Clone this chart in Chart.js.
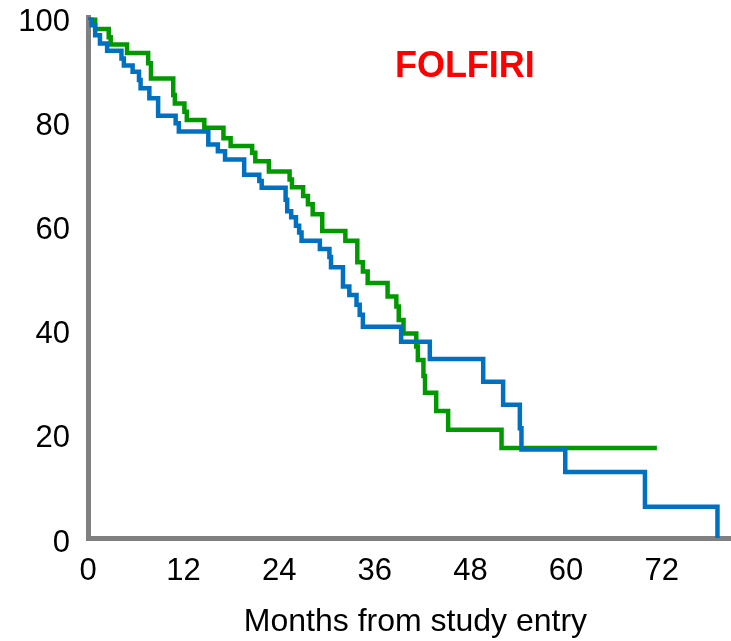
<!DOCTYPE html>
<html>
<head>
<meta charset="utf-8">
<script src="https://cdn.jsdelivr.net/npm/chart.js@4/dist/chart.umd.min.js"></script>
<style>
  html, body { margin: 0; padding: 0; background: #ffffff; }
  #wrap { width: 731px; height: 641px; position: relative; }
</style>
</head>
<body>
<div id="wrap"><canvas id="c" width="731" height="641"></canvas></div>
<script>
// ---- data ----
const seriesTitle = 'FOLFIRI';
const xAxisTitle = 'Months from study entry';
const xTickValues = [0, 12, 24, 36, 48, 60, 72];
const yTickValues = [0, 20, 40, 60, 80, 100];

const greenMonths = [0, 0.9, 2.6, 2.85, 4.9, 7.55, 7.9, 10.7, 10.9, 12.1, 12.4, 14.6, 17.0, 17.9, 20.6, 21.0, 22.7, 25.3, 25.6, 27.0, 27.6, 28.2, 29.4, 32.3, 33.8, 34.5, 35.1, 37.6, 38.7, 39.0, 39.6, 41.2, 41.4, 42.1, 42.3, 43.7, 45.2, 51.9, 71.4];
const greenSurv   = [100, 97.8, 96.2, 94.8, 93.2, 91.2, 88.3, 85.1, 83.5, 81.9, 80.3, 78.8, 76.8, 75.3, 74.0, 72.4, 70.4, 68.9, 67.4, 65.7, 64.1, 62.2, 59.0, 57.1, 53.0, 51.2, 49.0, 46.4, 44.5, 41.9, 39.3, 36.8, 34.2, 31.1, 27.9, 24.4, 20.8, 17.3, 17.3];

const blueMonths = [0, 0.45, 0.9, 1.5, 2.4, 4.2, 4.5, 5.6, 6.4, 6.6, 7.7, 8.8, 11.0, 11.4, 15.1, 16.3, 17.2, 19.6, 21.5, 21.8, 24.8, 25.0, 25.5, 26.1, 26.5, 26.8, 29.1, 30.3, 30.5, 32.0, 32.8, 33.7, 34.1, 34.5, 39.3, 42.9, 49.6, 52.1, 54.2, 54.4, 59.9, 69.9, 79.0];
const blueSurv   = [100, 98.5, 96.6, 95.0, 93.6, 92.1, 90.8, 89.6, 88.0, 86.4, 84.5, 81.1, 79.7, 78.1, 75.6, 74.3, 72.7, 69.8, 68.6, 67.3, 65.0, 62.8, 61.6, 60.0, 58.7, 57.1, 55.5, 54.0, 52.0, 48.3, 46.7, 44.8, 42.9, 40.6, 37.7, 34.4, 30.0, 25.6, 21.1, 17.0, 12.7, 6.0, 0];

const toPoints = (xs, ys) => xs.map((x, i) => ({ x: x, y: ys[i] }));

const labelPlugin = {
  id: 'textLabels',
  afterDraw(chart) {
    const { ctx, scales: { x, y } } = chart;
    ctx.save();
    ctx.font = 'bold 36px "Liberation Sans", Arial, sans-serif';
    ctx.fillStyle = '#FF0000';
    ctx.textAlign = 'center';
    ctx.textBaseline = 'alphabetic';
    ctx.fillText(seriesTitle, x.getPixelForValue(47.3), y.getPixelForValue(88.6));
    // x-axis title (the reference's plot is cropped on the right, so it sits right of the plot centre)
    ctx.font = '32px "Liberation Sans", Arial, sans-serif';
    ctx.fillStyle = '#000000';
    ctx.fillText(xAxisTitle, x.getPixelForValue(41.1), 631);
    ctx.restore();
  }
};

new Chart(document.getElementById('c'), {
  type: 'line',
  data: {
    datasets: [
      {
        label: 'blue',
        data: toPoints(blueMonths, blueSurv),
        borderColor: '#0070C0',
        borderWidth: 4.5,
        stepped: 'before',
        pointRadius: 0,
        fill: false,
        borderJoinStyle: 'miter',
        borderCapStyle: 'butt'
      },
      {
        label: 'green',
        data: toPoints(greenMonths, greenSurv),
        borderColor: '#009900',
        borderWidth: 4.5,
        stepped: 'before',
        pointRadius: 0,
        fill: false,
        borderJoinStyle: 'miter',
        borderCapStyle: 'butt'
      }
    ]
  },
  options: {
    responsive: false,
    animation: false,
    devicePixelRatio: 1,
    layout: { padding: { top: 17.5, right: 0, bottom: 0, left: 0 } },
    plugins: {
      legend: { display: false },
      tooltip: { enabled: false }
    },
    scales: {
      x: {
        type: 'linear',
        min: 0,
        max: 80.7,
        grid: { display: false, drawTicks: false },
        border: { display: true, color: '#808080', width: 5 },
        afterBuildTicks(scale) { scale.ticks = xTickValues.map(v => ({ value: v })); },
        ticks: {
          includeBounds: false,
          padding: 18,
          maxRotation: 0,
          autoSkip: false,
          color: '#000000',
          font: { family: '"Liberation Sans", Arial, sans-serif', size: 31, lineHeight: 1 }
        },
        title: { display: false },
        afterFit(scale) { scale.height = 103; scale.paddingLeft = 0; scale.paddingRight = 0; }
      },
      y: {
        type: 'linear',
        min: 0,
        max: 100,
        grid: { display: false, drawTicks: false },
        border: { display: true, color: '#808080', width: 5 },
        afterBuildTicks(scale) { scale.ticks = yTickValues.map(v => ({ value: v })); },
        ticks: {
          padding: 18,
          labelOffset: 5,
          autoSkip: false,
          color: '#000000',
          font: { family: '"Liberation Sans", Arial, sans-serif', size: 31, lineHeight: 1 }
        },
        afterFit(scale) { scale.width = 88; scale.paddingTop = 0; scale.paddingBottom = 0; }
      }
    }
  },
  plugins: [labelPlugin]
});
</script>
</body>
</html>
